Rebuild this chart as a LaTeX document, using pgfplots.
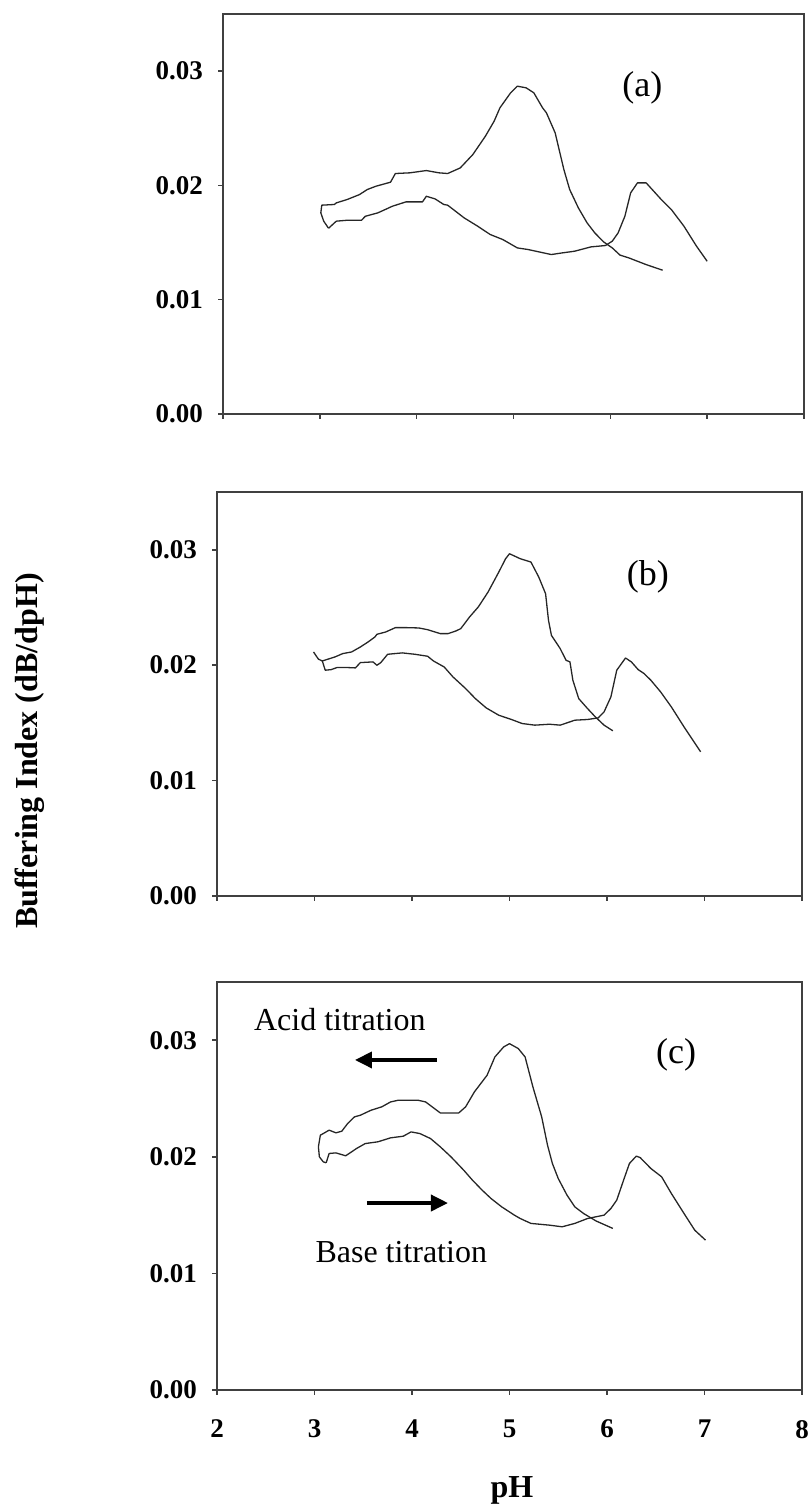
\documentclass[border=0pt]{standalone}
\usepackage{pgfplots}
\pgfplotsset{compat=1.18}
\usepackage{pgfplotstable}
\usepackage{fontspec}
\setmainfont{Liberation Serif}
\usetikzlibrary{arrows.meta}

% ---------- panel (a) ----------
\pgfplotstableread{
pH   bi
3.09 0.01625
3.04 0.01687
3.01 0.01760
3.02 0.01827
3.15 0.01833
3.17 0.01847
3.28 0.01876
3.41 0.01920
3.49 0.01964
3.58 0.01993
3.73 0.02028
3.78 0.02104
3.93 0.02110
4.10 0.02130
4.23 0.02110
4.32 0.02104
4.45 0.02153
4.58 0.02270
4.71 0.02431
4.80 0.02562
4.86 0.02679
4.97 0.02810
5.04 0.02868
5.13 0.02854
5.21 0.02810
5.30 0.02679
5.34 0.02635
5.43 0.02460
5.52 0.02139
5.58 0.01964
5.67 0.01803
5.76 0.01672
5.84 0.01584
5.93 0.01506
6.02 0.01453
6.10 0.01390
6.19 0.01366
6.37 0.01307
6.54 0.01258
}\acidA
\pgfplotstableread{
pH   bi
3.09 0.01625
3.17 0.01687
3.28 0.01695
3.43 0.01695
3.47 0.01730
3.60 0.01760
3.75 0.01818
3.89 0.01856
4.06 0.01856
4.10 0.01905
4.19 0.01882
4.28 0.01833
4.32 0.01827
4.49 0.01716
4.63 0.01643
4.76 0.01570
4.89 0.01526
5.04 0.01453
5.15 0.01439
5.39 0.01395
5.50 0.01409
5.63 0.01424
5.80 0.01462
5.95 0.01474
6.02 0.01512
6.08 0.01584
6.15 0.01730
6.21 0.01935
6.28 0.02022
6.37 0.02022
6.52 0.01882
6.63 0.01789
6.76 0.01643
6.89 0.01468
7.00 0.01336
}\baseA

% ---------- panel (b) ----------
\pgfplotstableread{
pH   bi
2.99 0.02114
3.04 0.02052
3.08 0.02036
3.21 0.02071
3.29 0.02100
3.38 0.02114
3.47 0.02157
3.55 0.02201
3.62 0.02244
3.64 0.02267
3.73 0.02287
3.83 0.02325
3.94 0.02325
4.07 0.02322
4.16 0.02307
4.29 0.02273
4.37 0.02273
4.45 0.02296
4.50 0.02316
4.59 0.02417
4.68 0.02504
4.78 0.02633
4.89 0.02806
4.96 0.02922
5.00 0.02965
5.11 0.02922
5.22 0.02893
5.30 0.02763
5.37 0.02619
5.40 0.02388
5.43 0.02258
5.52 0.02143
5.58 0.02042
5.62 0.02028
5.65 0.01869
5.71 0.01710
5.80 0.01624
5.88 0.01552
5.97 0.01480
6.06 0.01431
}\acidB
\pgfplotstableread{
pH   bi
3.08 0.02036
3.11 0.01956
3.17 0.01961
3.23 0.01979
3.34 0.01979
3.42 0.01976
3.47 0.02022
3.60 0.02028
3.64 0.01999
3.68 0.02022
3.75 0.02094
3.90 0.02106
4.03 0.02094
4.16 0.02077
4.22 0.02036
4.33 0.01984
4.42 0.01898
4.55 0.01797
4.65 0.01710
4.76 0.01630
4.89 0.01566
5.02 0.01529
5.13 0.01494
5.26 0.01480
5.41 0.01488
5.52 0.01480
5.67 0.01523
5.80 0.01529
5.91 0.01543
5.97 0.01595
6.04 0.01725
6.10 0.01956
6.19 0.02062
6.25 0.02028
6.32 0.01961
6.38 0.01927
6.45 0.01869
6.55 0.01768
6.66 0.01638
6.79 0.01465
6.96 0.01249
}\baseB

% ---------- panel (c) ----------
\pgfplotstableread{
pH   bi
3.12 0.01949
3.09 0.01957
3.05 0.02000
3.04 0.02086
3.06 0.02186
3.09 0.02200
3.15 0.02229
3.22 0.02206
3.28 0.02220
3.34 0.02286
3.41 0.02343
3.47 0.02357
3.58 0.02400
3.69 0.02429
3.78 0.02471
3.86 0.02486
4.06 0.02486
4.14 0.02471
4.29 0.02377
4.48 0.02377
4.55 0.02429
4.64 0.02557
4.77 0.02700
4.85 0.02857
4.94 0.02943
5.00 0.02971
5.09 0.02929
5.16 0.02857
5.24 0.02600
5.33 0.02343
5.39 0.02100
5.44 0.01943
5.50 0.01814
5.59 0.01671
5.67 0.01571
5.76 0.01514
5.89 0.01449
6.06 0.01386
}\acidC
\pgfplotstableread{
pH   bi
3.12 0.01949
3.15 0.02029
3.22 0.02034
3.32 0.02009
3.43 0.02071
3.52 0.02114
3.65 0.02129
3.78 0.02163
3.91 0.02177
3.99 0.02214
4.08 0.02200
4.19 0.02157
4.29 0.02086
4.40 0.02000
4.53 0.01886
4.62 0.01800
4.72 0.01714
4.81 0.01643
4.92 0.01571
5.05 0.01500
5.11 0.01471
5.22 0.01429
5.41 0.01414
5.54 0.01400
5.67 0.01429
5.80 0.01471
5.97 0.01500
6.04 0.01557
6.10 0.01629
6.17 0.01800
6.23 0.01943
6.30 0.02006
6.34 0.01994
6.45 0.01900
6.56 0.01829
6.66 0.01686
6.79 0.01514
6.90 0.01371
7.01 0.01286
}\baseC

\pgfplotsset{
  panel/.style={
    scale only axis,
    anchor=south west,
    xmin=2, xmax=8, ymin=0, ymax=0.035,
    xtick={2,3,4,5,6,7,8},
    ytick={0,0.01,0.02,0.03},
    yticklabels={0.00,0.01,0.02,0.03},
    scaled y ticks=false,
    tick pos=left,
    tick align=outside,
    major tick length=2.5pt,
    axis line style={draw=black!75, line width=0.9pt},
    every tick/.style={draw=black!75, line width=0.8pt},
    ticklabel style={font=\bfseries\fontsize{13.5}{16}\selectfont},
    /pgf/number format/assume math mode=true,
    yticklabel style={xshift=-4pt},
    xticklabel style={yshift=-9pt},
    clip=false,
  },
  curve/.style={draw=black!85, line width=0.65pt, line join=round, no markers},
}

\begin{document}
\begin{tikzpicture}
\useasboundingbox (0,0) rectangle (404.5pt,753.5pt);

% (a)
\begin{axis}[panel, at={(111.5pt,546.5pt)}, width=290.5pt, height=200pt, xticklabels={}]
  \addplot[curve] table[x=pH, y=bi] {\acidA};
  \addplot[curve] table[x=pH, y=bi] {\baseA};
  \node[font=\fontsize{18}{20}\selectfont] at (axis cs:6.33,0.02857) {(a)};
\end{axis}

% (b)
\begin{axis}[panel, at={(108.5pt,305.5pt)}, width=292.5pt, height=202pt, xticklabels={}]
  \addplot[curve] table[x=pH, y=bi] {\acidB};
  \addplot[curve] table[x=pH, y=bi] {\baseB};
  \node[font=\fontsize{18}{20}\selectfont] at (axis cs:6.42,0.02763) {(b)};
\end{axis}

% (c)
\begin{axis}[panel, at={(108.5pt,58.5pt)}, width=292.5pt, height=204pt]
  \addplot[curve] table[x=pH, y=bi] {\acidC};
  \addplot[curve] table[x=pH, y=bi] {\baseC};
  \node[font=\fontsize{18}{20}\selectfont] at (axis cs:6.71,0.02871) {(c)};
  \node[font=\fontsize{16}{18}\selectfont] at (axis cs:3.26,0.03174) {Acid titration};
  \node[font=\fontsize{16}{18}\selectfont] at (axis cs:3.89,0.01184) {Base titration};
  \draw[line width=1.8pt, -{Triangle[length=8.5pt,width=8pt]}]
    (axis cs:4.256,0.02831) -- (axis cs:3.415,0.02831);
  \draw[line width=1.8pt, -{Triangle[length=8.5pt,width=8pt]}]
    (axis cs:3.538,0.01604) -- (axis cs:4.369,0.01604);
\end{axis}

% shared axis titles
\node[rotate=90, font=\bfseries\fontsize{16}{18}\selectfont] at (15pt,378pt) {Buffering Index (dB/dpH)};
\node[font=\bfseries\fontsize{16}{18}\selectfont] at (256pt,8.5pt) {pH};
\end{tikzpicture}
\end{document}
